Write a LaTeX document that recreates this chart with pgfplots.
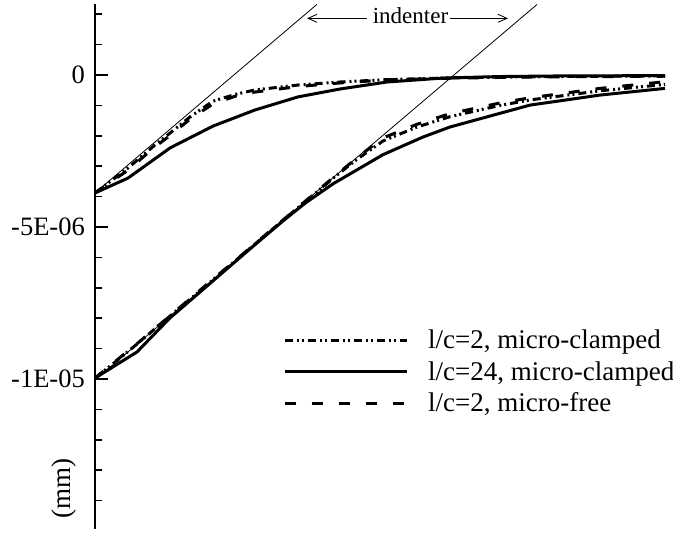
\documentclass[border=0pt]{standalone}
\usepackage{fontspec}
\setmainfont{Liberation Serif}
\usepackage{pgfplots}
\pgfplotsset{compat=1.18}
\usetikzlibrary{arrows.meta}
\begin{document}
\begin{tikzpicture}
\path[use as bounding box] (0,0) rectangle (673pt,534pt);
\begin{axis}[
  at={(95pt,5.1pt)}, anchor=south west,
  scale only axis, width=570pt, height=524.4pt,
  xmin=0, xmax=570, ymin=-14.93, ymax=2.32,
  axis x line=none, axis y line*=left,
  y axis line style={line width=2.7pt},
  xtick=\empty,
  ytick={-10,-5,0}, yticklabels={-1E-05,-5E-06,0},
  minor ytick={-14,-13,-12,-11,-9,-8,-7,-6,-4,-3,-2,-1,1,2},
  tick align=inside,
  major tick length=13pt, minor tick length=7pt,
  every major tick/.append style={line width=2.7pt, black},
  every minor tick/.append style={line width=1.6pt, black},
  yticklabel style={font=\fontsize{26.5}{30}\selectfont, inner sep=0pt, xshift=-10pt},
  ylabel={(mm)},
  every axis y label/.style={at={(axis description cs:-0.0544,0.0765)}, rotate=90, anchor=center, font=\fontsize{27}{30}\selectfont},
  legend style={at={(axis description cs:0.3298,0.386)}, anchor=north west, draw=none, fill=none, inner sep=0pt, row sep=0pt, font=\fontsize{27}{30}\selectfont, nodes={inner sep=0pt, text height=22pt, text depth=9.5pt}},
  legend cell align=left,
  legend image code/.code={\draw[#1] (0pt,2pt) -- (122pt,2pt); \path (142pt,2pt);},
]
% l/c=2, micro-clamped (dash-dot-dot)
\addplot[black, line width=3pt, dash pattern=on 8pt off 4pt on 2pt off 3pt on 2pt off 4pt] coordinates {
(0,-3.88) (33,-3.06) (60,-2.30) (75,-1.91) (95,-1.38) (118,-0.86) (140,-0.64) (160,-0.49) (203,-0.33) (245,-0.23) (292,-0.15) (348,-0.10) (405,-0.07) (465,-0.05) (570,-0.03)};
\addlegendentry{l/c=2, micro-clamped}
% l/c=24, micro-clamped (solid)
\addplot[black, line width=3pt] coordinates {
(0,-3.88) (33,-3.39) (75,-2.40) (118,-1.68) (160,-1.15) (203,-0.72) (245,-0.46) (292,-0.23) (348,-0.10) (405,-0.05) (465,-0.03) (570,-0.02)};
\addlegendentry{l/c=24, micro-clamped}
% l/c=2, micro-free (dashed)
\addplot[black, line width=3pt, dash pattern=on 11pt off 16pt] coordinates {
(0,-3.88) (33,-3.13) (60,-2.36) (75,-1.99) (95,-1.45) (118,-0.95) (140,-0.70) (160,-0.56) (203,-0.38) (245,-0.26) (292,-0.16) (348,-0.11) (405,-0.08) (465,-0.06) (570,-0.04)};
\addlegendentry{l/c=2, micro-free}
% deeper indentation branch
\addplot[forget plot, black, line width=3pt, dash pattern=on 8pt off 4pt on 2pt off 3pt on 2pt off 4pt] coordinates {
(0,-9.97) (21,-9.42) (42,-8.85) (75,-7.93) (105,-7.10) (155,-5.70) (188,-4.78) (238,-3.40) (260,-2.82) (288,-2.17) (322,-1.71) (355,-1.37) (405,-1.00) (435,-0.82) (505,-0.52) (570,-0.31)};
\addplot[forget plot, black, line width=3pt] coordinates {
(0,-9.97) (42,-9.11) (75,-7.99) (105,-7.14) (155,-5.72) (188,-4.80) (210,-4.22) (238,-3.58) (288,-2.62) (328,-2.04) (355,-1.71) (435,-0.99) (505,-0.66) (570,-0.44)};
\addplot[forget plot, black, line width=3pt, dash pattern=on 11pt off 16pt] coordinates {
(0,-9.97) (21,-9.40) (42,-8.84) (75,-7.92) (105,-7.08) (155,-5.69) (188,-4.77) (238,-3.38) (262,-2.72) (288,-2.07) (322,-1.62) (355,-1.27) (405,-0.92) (435,-0.75) (505,-0.44) (570,-0.22)};
% indenter faces
\addplot[forget plot, black, line width=0.8pt] coordinates {(0,-3.88) (221.8,2.32)};
\addplot[forget plot, black, line width=0.8pt] coordinates {(0,-10.03) (442,2.32)};
\node[font=\fontsize{23}{26}\selectfont, anchor=base, inner sep=0pt] at (axis cs:315.5,1.70) {indenter};
\draw[line width=0.8pt, -{Straight Barb[length=9pt,width=8pt]}] (axis cs:272,1.865) -- (axis cs:212,1.865);
\draw[line width=0.8pt, -{Straight Barb[length=9pt,width=8pt]}] (axis cs:355,1.865) -- (axis cs:413,1.865);
\end{axis}
\end{tikzpicture}
\end{document}
